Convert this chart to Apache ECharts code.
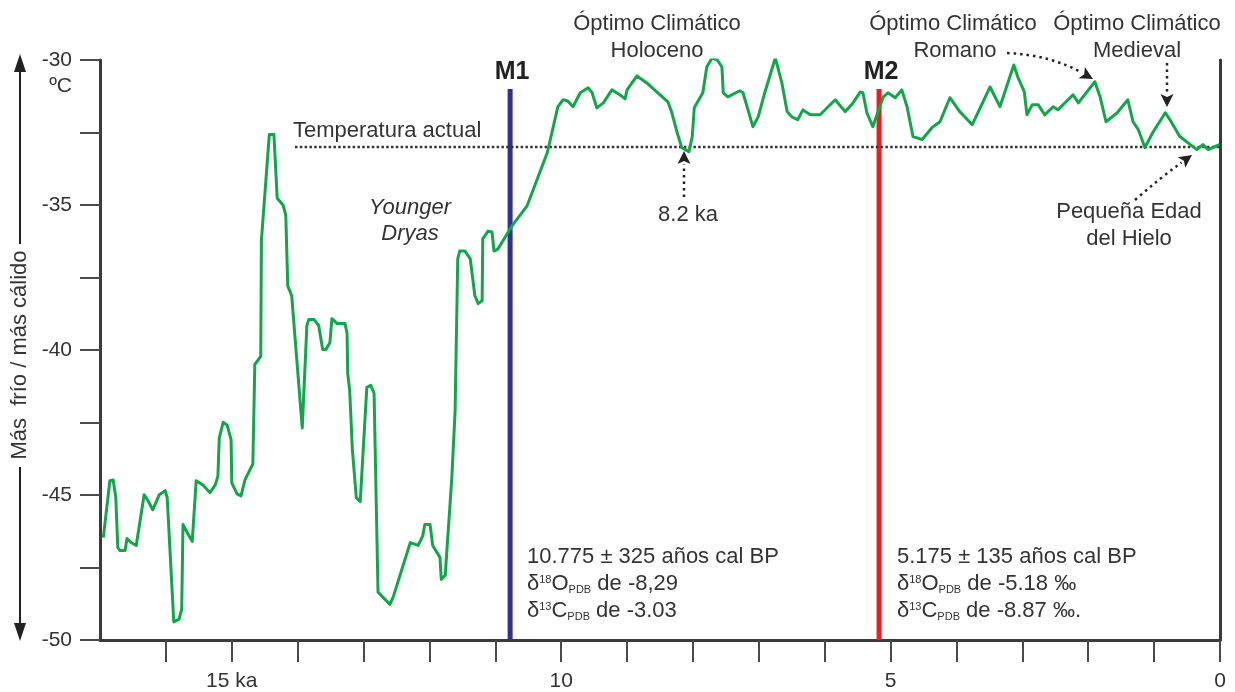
<!DOCTYPE html>
<html>
<head>
<meta charset="utf-8">
<script src="https://cdn.jsdelivr.net/npm/echarts@6/dist/echarts.min.js"></script>
<style>
html,body{margin:0;padding:0;background:#fff;}
#c{width:1235px;height:692px;}
</style>
</head>
<body>
<div id="c"></div>
<script>
// ---- Data (ka BP, temperature ºC) ----
const ageKa = [16.95,16.85,16.80,16.76,16.73,16.70,16.62,16.59,16.53,16.45,16.33,16.27,16.20,16.10,16.01,15.98,15.88,15.80,15.76,15.74,15.66,15.60,15.54,15.44,15.33,15.25,15.21,15.19,15.13,15.07,15.01,15.00,14.92,14.86,14.80,14.68,14.65,14.56,14.55,14.43,14.36,14.31,14.22,14.18,14.15,14.09,13.93,13.86,13.83,13.75,13.68,13.62,13.57,13.51,13.48,13.40,13.28,13.25,13.24,13.21,13.17,13.11,13.05,12.95,12.89,12.84,12.78,12.60,12.55,12.29,12.17,12.10,12.07,11.99,11.95,11.84,11.82,11.76,11.66,11.61,11.57,11.54,11.46,11.38,11.31,11.26,11.20,11.19,11.11,11.05,11.02,10.96,10.75,10.52,10.21,10.05,9.97,9.90,9.82,9.71,9.59,9.53,9.46,9.36,9.23,9.11,9.03,9.00,8.85,8.70,8.55,8.38,8.32,8.24,8.17,8.06,8.01,7.98,7.85,7.79,7.71,7.63,7.56,7.54,7.47,7.29,7.24,7.09,7.01,6.91,6.75,6.65,6.57,6.50,6.41,6.33,6.22,6.07,5.84,5.69,5.57,5.46,5.42,5.36,5.27,5.11,5.04,4.93,4.83,4.75,4.66,4.52,4.37,4.25,4.10,3.95,3.76,3.49,3.34,3.13,3.07,2.97,2.93,2.85,2.76,2.66,2.53,2.46,2.23,2.15,1.90,1.82,1.73,1.56,1.40,1.32,1.24,1.14,1.02,0.83,0.76,0.61,0.45,0.35,0.26,0.18,0.11,0.01];
const tempC = [-46.47,-44.51,-44.48,-45.09,-46.81,-46.91,-46.91,-46.50,-46.64,-46.74,-44.99,-45.20,-45.51,-44.99,-44.85,-45.09,-49.38,-49.28,-48.94,-46.02,-46.36,-46.60,-44.51,-44.65,-44.92,-44.65,-44.34,-43.04,-42.49,-42.59,-43.10,-44.58,-44.96,-45.03,-44.48,-43.93,-40.50,-40.22,-36.21,-32.57,-32.57,-34.77,-35.01,-35.35,-37.79,-38.13,-42.69,-39.16,-38.95,-38.95,-39.16,-39.98,-39.98,-39.74,-38.92,-39.09,-39.09,-39.43,-40.81,-41.39,-43.41,-45.09,-45.23,-41.29,-41.22,-41.49,-48.35,-48.77,-48.52,-46.64,-46.74,-46.40,-46.02,-46.02,-46.74,-47.15,-47.91,-47.77,-44.41,-42.11,-36.86,-36.59,-36.59,-36.86,-38.13,-38.40,-38.30,-36.17,-35.90,-35.93,-36.59,-36.52,-35.73,-35.04,-33.19,-31.61,-31.37,-31.41,-31.61,-31.13,-30.96,-31.13,-31.65,-31.48,-31.03,-31.20,-31.34,-31.03,-30.55,-30.79,-31.10,-31.44,-31.82,-32.50,-33.02,-33.16,-32.64,-31.65,-31.13,-30.24,-29.93,-30.00,-30.24,-31.13,-31.27,-31.06,-31.13,-32.30,-31.96,-31.13,-29.93,-30.79,-31.78,-31.96,-32.06,-31.72,-31.89,-31.89,-31.37,-31.78,-31.48,-31.10,-31.13,-31.82,-32.30,-31.27,-31.13,-31.30,-31.03,-31.61,-32.64,-32.74,-32.33,-32.13,-31.30,-31.78,-32.23,-30.93,-31.61,-30.17,-30.58,-31.10,-31.89,-31.54,-31.54,-31.89,-31.61,-31.72,-31.20,-31.48,-30.75,-31.27,-32.13,-31.82,-31.37,-32.13,-32.40,-33.02,-32.50,-31.82,-32.06,-32.64,-32.92,-33.09,-32.92,-33.09,-33.02,-32.92];

const markerAges = [10.775, 5.175];
const markerNames = ['M1', 'M2'];
const markerTop = -31;
const presentTemp = -33;
const presentFromKa = 14.04;
const xTickValues = [0,1,2,3,4,5,6,7,8,9,10,11,12,13,14,15,16];
const xLabelValues = [0,5,10,15];
const xLabelText = {15:'15 ka', 10:'10', 5:'5', 0:'0'};
const yMin = -50, yMax = -30, yStep = 2.5;

const blocks = [
  ['10.775 ± 325 años cal BP', ['18','-8,29'], ['13','-3.03']],
  ['5.175 ± 135 años cal BP', ['18','-5.18 ‰'], ['13','-8.87 ‰.']]
];

// ---- Chart ----
const FONT = '"Liberation Sans", Arial, Helvetica, sans-serif';
const TXT = '#333333';
const chart = echarts.init(document.getElementById('c'));

const curve = ageKa.map((a, i) => [a, tempC[i]]);
const markerColors = ['#2e3192', '#ed1c24'];

const series = markerAges.map((a, i) => ({
  type: 'line', data: [[a, markerTop], [a, yMin]], symbol: 'none', silent: true,
  lineStyle: { color: markerColors[i], width: 5, cap: 'butt' }, z: 1
}));
series.push({
  type: 'line', data: [[presentFromKa, presentTemp], [0, presentTemp]], symbol: 'none', silent: true,
  lineStyle: { color: '#333', width: 2.5, type: [2.5, 2.3] }, z: 2
});
series.push({
  type: 'line', data: curve, symbol: 'none', silent: true,
  lineStyle: { color: '#12a64b', width: 3, join: 'round' }, z: 3
});

const option = {
  backgroundColor: '#ffffff',
  animation: false,
  grid: { left: 100, right: 15, top: 60, bottom: 48, containLabel: false },
  xAxis: {
    type: 'value', min: 0, max: 17, interval: 1, inverse: true,
    splitLine: { show: false },
    axisLine: { show: true, onZero: false, lineStyle: { color: '#3a3a3a', width: 3 } },
    axisTick: { show: true, length: 22, customValues: xTickValues, lineStyle: { color: '#4a4a4a', width: 2 } },
    axisLabel: { show: true, customValues: xLabelValues, margin: 31, fontSize: 21, color: TXT, fontFamily: FONT,
      formatter: v => xLabelText[v] !== undefined ? xLabelText[v] : '' }
  },
  yAxis: [{
    type: 'value', min: yMin, max: yMax, interval: yStep,
    splitLine: { show: false },
    axisLine: { show: true, onZero: false, lineStyle: { color: '#3a3a3a', width: 3 } },
    axisTick: { show: true, length: 20, lineStyle: { color: '#4a4a4a', width: 2 } },
    axisLabel: { margin: 28, fontSize: 21, color: TXT, fontFamily: FONT,
      formatter: v => (v % 5 === 0 ? String(v) : '') }
  }, {
    type: 'value', min: yMin, max: yMax, position: 'right',
    splitLine: { show: false },
    axisLine: { show: true, onZero: false, lineStyle: { color: '#3a3a3a', width: 3 } },
    axisTick: { show: false }, axisLabel: { show: false }
  }],
  series: series
};
chart.setOption(option);

// ---- Annotations ----
const g = [];
function txt(x, y, s, extra) {
  g.push({ type: 'text', x: x, y: y, silent: true, z: 10,
    style: Object.assign({ text: s, fill: TXT, font: '22px ' + FONT, align: 'center', verticalAlign: 'middle' }, extra || {}) });
}
function dotted(x1, y1, x2, y2, cx, cy) {
  const st = { stroke: '#222', lineWidth: 2.5, lineDash: [2.5, 4], fill: null };
  const dx = x2 - (cx !== undefined ? cx : x1), dy = y2 - (cy !== undefined ? cy : y1);
  const L = Math.sqrt(dx * dx + dy * dy), ux = dx / L, uy = dy / L;
  const hl = 13, hw = 6.5;
  const bx = x2 - ux * hl, by = y2 - uy * hl;
  if (cx !== undefined) {
    g.push({ type: 'bezierCurve', silent: true, z: 10, shape: { x1: x1, y1: y1, x2: bx, y2: by, cpx1: cx, cpy1: cy }, style: st });
  } else {
    g.push({ type: 'line', silent: true, z: 10, shape: { x1: x1, y1: y1, x2: bx, y2: by }, style: st });
  }
  g.push({ type: 'polygon', silent: true, z: 10,
    shape: { points: [[x2, y2], [bx - uy * hw, by + ux * hw], [bx + ux * 3, by + uy * 3], [bx + uy * hw, by - ux * hw]] },
    style: { fill: '#222' } });
}

// y axis name with double arrow
g.push({ type: 'text', x: 20, y: 355, rotation: Math.PI / 2, silent: true,
  style: { text: 'Más  frío / más cálido', fill: TXT, font: '22px ' + FONT, align: 'center', verticalAlign: 'middle' } });
g.push({ type: 'line', silent: true, shape: { x1: 20, y1: 66, x2: 20, y2: 244 }, style: { stroke: '#222', lineWidth: 2 } });
g.push({ type: 'line', silent: true, shape: { x1: 20, y1: 467, x2: 20, y2: 630 }, style: { stroke: '#222', lineWidth: 2 } });
g.push({ type: 'polygon', silent: true, shape: { points: [[20, 54], [14, 72], [26, 72]] }, style: { fill: '#222' } });
g.push({ type: 'polygon', silent: true, shape: { points: [[20, 641], [14, 623], [26, 623]] }, style: { fill: '#222' } });
txt(72, 86, 'ºC', { align: 'right', font: '21px ' + FONT });

// Marker labels
markerAges.forEach((a, i) => {
  const p = chart.convertToPixel({ xAxisIndex: 0, yAxisIndex: 0 }, [a, markerTop]);
  txt(p[0] + 2, p[1] - 17, markerNames[i], { font: 'bold 25px ' + FONT, fill: '#222' });
});

// Titles
txt(657, 24, 'Óptimo Climático'); txt(657, 51, 'Holoceno');
txt(953, 24, 'Óptimo Climático'); txt(955, 51, 'Romano');
txt(1137, 24, 'Óptimo Climático'); txt(1137, 51, 'Medieval');
txt(293, 131, 'Temperatura actual', { align: 'left' });
txt(410, 208, 'Younger', { font: 'italic 22px ' + FONT });
txt(410, 234, 'Dryas', { font: 'italic 22px ' + FONT });
txt(688, 215, '8.2 ka');
txt(1129, 212, 'Pequeña Edad');
txt(1129, 239, 'del Hielo');

// Arrows
dotted(684, 197, 684, 151);
dotted(1167, 63, 1167, 107);
dotted(1007, 53, 1093, 79, 1050, 55);
dotted(1135, 200, 1192, 155, 1160, 178);

// Text blocks
const rich = {
  n: { fontSize: 22, fontFamily: FONT, fill: TXT, lineHeight: 26 },
  sup: { fontSize: 11, fontFamily: FONT, fill: TXT, verticalAlign: 'top', lineHeight: 26, padding: [3, 0, 0, 0] },
  sub: { fontSize: 11, fontFamily: FONT, fill: TXT, verticalAlign: 'bottom', lineHeight: 26, padding: [0, 0, 2, 0] }
};
const blockX = [527, 897];
blocks.forEach((b, i) => {
  txt(blockX[i], 557, b[0], { align: 'left' });
  g.push({ type: 'text', x: blockX[i], y: 584, silent: true, z: 10,
    style: { text: '{n|δ}{sup|' + b[1][0] + '}{n|O}{sub|PDB}{n| de ' + b[1][1] + '}', rich: rich, align: 'left', verticalAlign: 'middle' } });
  g.push({ type: 'text', x: blockX[i], y: 611, silent: true, z: 10,
    style: { text: '{n|δ}{sup|' + b[2][0] + '}{n|C}{sub|PDB}{n| de ' + b[2][1] + '}', rich: rich, align: 'left', verticalAlign: 'middle' } });
});

chart.setOption({ graphic: g });
</script>
</body>
</html>
